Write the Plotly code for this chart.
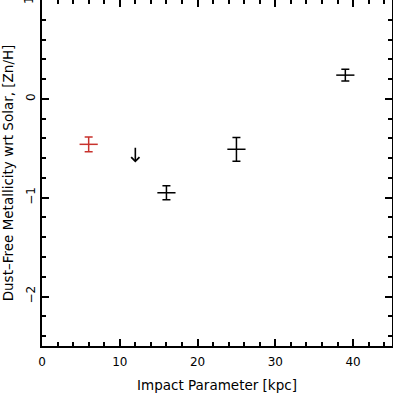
import plotly.graph_objects as go

# impact parameter [kpc] and dust-free [Zn/H]
x_red = [6]
y_red = [-0.46]
err_red = [0.075]

x_black = [16, 25, 39]
y_black = [-0.95, -0.51, 0.24]
err_black = [0.07, 0.12, 0.06]

# upper limit
x_lim = [12]
y_lim = [-0.48]

fig = go.Figure()

fig.add_trace(go.Scatter(
    x=x_red, y=y_red, mode="markers",
    marker=dict(symbol="line-ew", size=13, line=dict(color="#c8322d", width=1.5)),
    error_y=dict(type="data", array=err_red, color="#c8322d", thickness=1.5, width=4),
    showlegend=False,
))
fig.add_trace(go.Scatter(
    x=x_black, y=y_black, mode="markers",
    marker=dict(symbol="line-ew", size=13, line=dict(color="black", width=1.5)),
    error_y=dict(type="data", array=err_black, color="black", thickness=1.5, width=4),
    showlegend=False,
))

for xv, yv in zip(x_lim, y_lim):
    fig.add_annotation(
        x=xv, y=yv - 0.165, ax=xv, ay=yv, xref="x", yref="y", axref="x", ayref="y",
        showarrow=True, arrowhead=4, arrowsize=1, arrowwidth=1.6, arrowcolor="black",
        text="",
    )

# top y tick label sits on the page edge, plotly drops it, so put it back by hand
fig.add_annotation(
    x=0, y=1, xref="paper", yref="y", text="1", showarrow=False,
    textangle=-90, xanchor="center", yanchor="middle", xshift=-13,
    font=dict(size=12, color="black"),
)

fig.update_xaxes(
    range=[0, 45], tick0=0, dtick=10, ticks="inside", ticklen=7, tickwidth=1.5,
    tickcolor="black",
    minor=dict(dtick=2, ticks="inside", ticklen=4, tickwidth=1.5, tickcolor="black"),
    showline=True, linewidth=1.6, linecolor="black", mirror="ticks",
    showgrid=False, zeroline=False, automargin=False, ticklabelstandoff=4,
    tickfont=dict(size=12, color="black"),
    title=dict(text="Impact Parameter [kpc]", font=dict(size=13.5, color="black"), standoff=14),
)
fig.update_yaxes(
    range=[-2.5, 1], tick0=0, dtick=1, ticks="inside", ticklen=7, tickwidth=1.5,
    tickcolor="black",
    minor=dict(dtick=0.2, ticks="inside", ticklen=4, tickwidth=1.5, tickcolor="black"),
    showline=True, linewidth=1.6, linecolor="black", mirror="ticks",
    showgrid=False, zeroline=False, tickangle=-90, automargin=False,
    tickfont=dict(size=12, color="black"),
    title=dict(text="Dust\u2013Free Metallicity wrt Solar, [Zn/H]", font=dict(size=13.5, color="black"), standoff=8),
)

fig.update_layout(
    width=393, height=393,
    margin=dict(l=42, r=1, t=0, b=47),
    paper_bgcolor="white", plot_bgcolor="white",
    font=dict(family="DejaVu Sans", color="black"),
)

fig.write_html("out.html", config={"displayModeBar": False},
               post_script="document.body.style.margin='0';")
